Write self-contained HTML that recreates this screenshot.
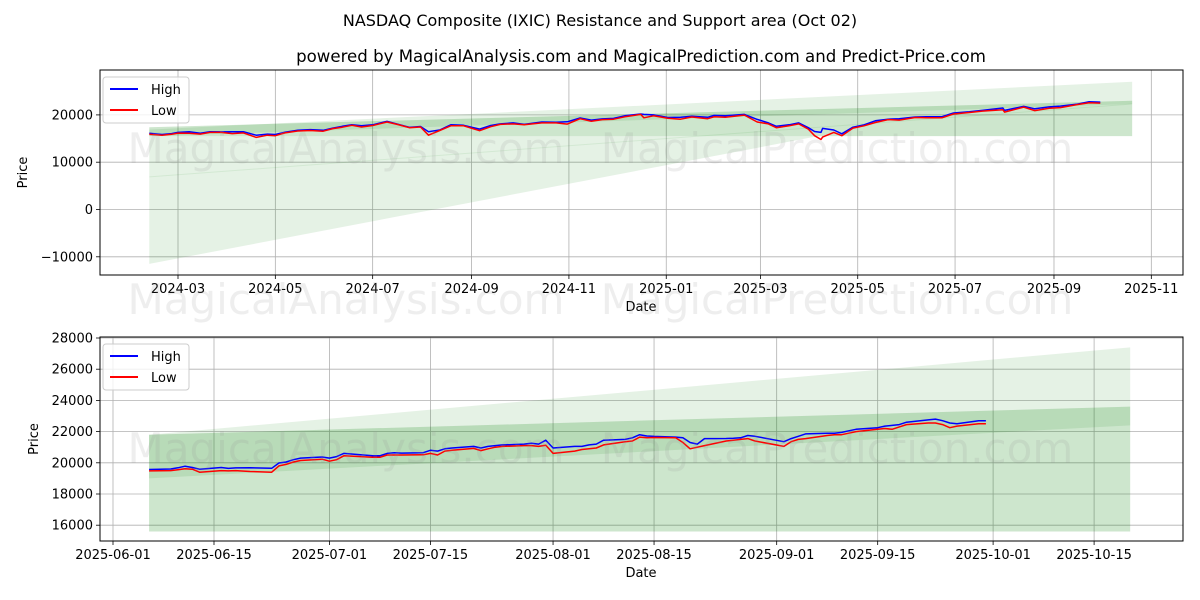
<!DOCTYPE html>
<html><head><meta charset="utf-8"><style>
html,body{margin:0;padding:0;background:#fff;}
svg{display:block;font-family:"DejaVu Sans","Liberation Sans",sans-serif;}
</style></head><body>
<svg id="chart" width="1200" height="600" viewBox="0 0 1200 600" xmlns="http://www.w3.org/2000/svg">
<rect x="0" y="0" width="1200" height="600" fill="#fff"/>
<text x="600" y="26" text-anchor="middle" font-size="16" fill="#000">NASDAQ Composite (IXIC) Resistance and Support area (Oct 02)</text>
<text x="641" y="62" text-anchor="middle" font-size="16.6" fill="#000">powered by MagicalAnalysis.com and MagicalPrediction.com and Predict-Price.com</text>
<g id="top"></g>
<g id="bot"></g>
<g font-size="42" fill="rgba(150,150,150,0.16)" text-anchor="middle">
<text x="346" y="163">MagicalAnalysis.com</text>
<text x="837" y="163">MagicalPrediction.com</text>
<text x="346" y="314">MagicalAnalysis.com</text>
<text x="837" y="314">MagicalPrediction.com</text>
<text x="346" y="463">MagicalAnalysis.com</text>
<text x="837" y="463">MagicalPrediction.com</text>
</g>
</svg>
<script>
// ---- top chart data ----
const topDates = ["2024-02-12","2024-02-20","2024-02-26","2024-03-01","2024-03-08","2024-03-15","2024-03-21","2024-03-28","2024-04-04","2024-04-11","2024-04-19","2024-04-26","2024-05-01","2024-05-07","2024-05-15","2024-05-23","2024-05-31","2024-06-06","2024-06-12","2024-06-18","2024-06-24","2024-07-01","2024-07-10","2024-07-17","2024-07-24","2024-07-31","2024-08-05","2024-08-12","2024-08-19","2024-08-27","2024-09-06","2024-09-13","2024-09-19","2024-09-27","2024-10-04","2024-10-15","2024-10-24","2024-10-31","2024-11-08","2024-11-15","2024-11-22","2024-11-29","2024-12-06","2024-12-16","2024-12-18","2024-12-24","2025-01-02","2025-01-10","2025-01-17","2025-01-27","2025-01-31","2025-02-07","2025-02-19","2025-02-27","2025-03-06","2025-03-11","2025-03-19","2025-03-25","2025-03-31","2025-04-04","2025-04-08","2025-04-09","2025-04-16","2025-04-21","2025-04-28","2025-05-05","2025-05-12","2025-05-20","2025-05-27","2025-06-06","2025-06-13","2025-06-23","2025-06-30","2025-07-10","2025-07-18","2025-07-31","2025-08-01","2025-08-13","2025-08-20","2025-08-29","2025-09-05","2025-09-15","2025-09-23","2025-09-30"];
const topHigh = [16100,15850,16050,16300,16450,16100,16450,16400,16450,16450,15700,15950,15850,16350,16750,16900,16750,17200,17600,17900,17700,17900,18650,18000,17350,17550,16450,16800,17900,17800,17000,17750,18100,18300,18000,18500,18450,18550,19350,18900,19150,19250,19800,20200,20100,20000,19450,19500,19700,19500,19900,19800,20100,19050,18300,17600,17900,18300,17300,16500,16300,17150,16800,16000,17400,17900,18750,19100,19200,19550,19600,19650,20400,20650,20950,21450,20950,21800,21300,21700,21850,22250,22800,22700];
const topLow = [15900,15700,15900,16150,16100,15950,16300,16300,16050,16200,15250,15700,15600,16200,16600,16700,16550,17100,17400,17800,17450,17750,18500,17950,17300,17450,15700,16700,17700,17700,16650,17500,18000,18100,17900,18300,18300,18050,19200,18650,19000,19100,19600,20100,19380,19800,19300,19100,19550,19200,19600,19500,19950,18500,18100,17300,17700,18100,17000,15600,14800,15300,16300,15600,17200,17700,18400,19000,18900,19450,19400,19400,20200,20500,20800,21100,20600,21650,20900,21400,21550,22150,22550,22500];
const topYTicks = [-10000,0,10000,20000];
const topXTicks = ["2024-03","2024-05","2024-07","2024-09","2024-11","2025-01","2025-03","2025-05","2025-07","2025-09","2025-11"];
const topBandStart = "2024-02-12", topBandEnd = "2025-10-20";
const topLightUpper = [16900,27000], topLightLower = [-11500,15500];
const topDarkUpper = [17400,23000], topDarkLower = [15500,15500];
const topStripUpper = [17400,23000], topStripLower = [15500,22300];
const topFaintLine = [6900,22300];

// ---- bottom chart data ----
const botDates = ["2025-06-06","2025-06-09","2025-06-10","2025-06-11","2025-06-12","2025-06-13","2025-06-16","2025-06-17","2025-06-18","2025-06-20","2025-06-23","2025-06-24","2025-06-25","2025-06-26","2025-06-27","2025-06-30","2025-07-01","2025-07-02","2025-07-03","2025-07-07","2025-07-08","2025-07-09","2025-07-10","2025-07-11","2025-07-14","2025-07-15","2025-07-16","2025-07-17","2025-07-18","2025-07-21","2025-07-22","2025-07-23","2025-07-24","2025-07-25","2025-07-28","2025-07-29","2025-07-30","2025-07-31","2025-08-01","2025-08-04","2025-08-05","2025-08-06","2025-08-07","2025-08-08","2025-08-11","2025-08-12","2025-08-13","2025-08-14","2025-08-15","2025-08-18","2025-08-19","2025-08-20","2025-08-21","2025-08-22","2025-08-25","2025-08-26","2025-08-27","2025-08-28","2025-08-29","2025-09-02","2025-09-03","2025-09-04","2025-09-05","2025-09-08","2025-09-09","2025-09-10","2025-09-11","2025-09-12","2025-09-15","2025-09-16","2025-09-17","2025-09-18","2025-09-19","2025-09-22","2025-09-23","2025-09-24","2025-09-25","2025-09-26","2025-09-29","2025-09-30"];
const botHigh = [19570,19600,19680,19780,19700,19590,19700,19640,19670,19680,19650,19990,20050,20200,20300,20370,20300,20400,20600,20450,20450,20600,20650,20620,20650,20800,20750,20900,20950,21050,20950,21050,21100,21150,21200,21250,21200,21450,20950,21050,21050,21150,21200,21450,21500,21600,21800,21720,21690,21650,21600,21300,21200,21550,21560,21570,21600,21750,21700,21350,21550,21700,21850,21900,21900,21950,22050,22150,22250,22350,22400,22450,22600,22750,22800,22700,22550,22500,22700,22700];
const botLow = [19480,19500,19560,19620,19590,19400,19500,19480,19500,19440,19400,19800,19900,20050,20150,20230,20100,20200,20450,20350,20350,20500,20500,20500,20510,20600,20500,20750,20800,20920,20780,20900,21000,21050,21100,21100,21050,21130,20600,20750,20850,20900,20950,21150,21350,21400,21650,21600,21620,21600,21300,20900,21000,21100,21400,21450,21500,21550,21400,21050,21350,21500,21550,21750,21800,21800,21900,22000,22150,22200,22150,22300,22450,22550,22550,22450,22250,22350,22500,22500];
const botYTicks = [16000,18000,20000,22000,24000,26000,28000];
const botXTicks = ["2025-06-01","2025-06-15","2025-07-01","2025-07-15","2025-08-01","2025-08-15","2025-09-01","2025-09-15","2025-10-01","2025-10-15"];
const botBandStart = "2025-06-06", botBandEnd = "2025-10-20";
const botLightUpper = [21800,27400], botLightLower = [15600,15600];
const botDarkUpper = [21800,23600], botDarkLower = [15600,15600];
const botStripUpper = [21800,23600], botStripLower = [19000,22400];

const NS = "http://www.w3.org/2000/svg";
function day(s){ const p=s.split("-").map(Number); return Date.UTC(p[0],p[1]-1,p[2]||1)/86400000; }
function mk(tag, attrs, parent){ const e=document.createElementNS(NS,tag); for(const k in attrs) e.setAttribute(k,attrs[k]); parent.appendChild(e); return e; }

function drawChart(g, cfg){
  const L=100,R=1183,T=cfg.top,B=cfg.bottom;
  const x = d => cfg.x0 + (day(d)-day(cfg.d0))*cfg.pxDay;
  const y = v => cfg.y0 + (cfg.v0 - v)*cfg.pxVal;
  const clip = mk("clipPath",{id:cfg.id+"clip"},g);
  mk("rect",{x:L,y:T,width:R-L,height:B-T},clip);
  cfg.xTicks.forEach((t,i)=>{
    const gl = mk("line",{x1:x(t),x2:x(t),y1:T,y2:B,stroke:"#b0b0b0","stroke-width":0.8},g);
    
    
    const tk = mk("line",{x1:x(t),x2:x(t),y1:B,y2:B+4,stroke:"#000","stroke-width":0.8},g);
    
    
    const lb = mk("text",{x:x(t),y:B+18,"text-anchor":"middle","font-size":13,fill:"#000"},g);
    
    
    lb.textContent=cfg.xLabels[i];
  });
  cfg.yTicks.forEach(v=>{
    const gl = mk("line",{x1:L,x2:R,y1:y(v),y2:y(v),stroke:"#b0b0b0","stroke-width":0.8},g);
    
    
    const tk = mk("line",{x1:L-4,x2:L,y1:y(v),y2:y(v),stroke:"#000","stroke-width":0.8},g);
    
    
    const lb = mk("text",{x:L-7,y:y(v)+4.5,"text-anchor":"end","font-size":13,fill:"#000"},g);
    
    
    lb.textContent = v<0 ? "\u2212"+Math.abs(v) : String(v);
  });
  const bg = mk("g",{"clip-path":"url(#"+cfg.id+"clip)"},g);
  
  
  const xs=x(cfg.bs), xe=x(cfg.be);
  function band(up,lo,name,extra){
    let pts = [[xs,y(up[0])],[xe,y(up[1])],[xe,y(lo[1])]];
    if(extra) pts.push([extra[0],y(extra[1])]);
    pts.push([xs,y(lo[0])]);
    const p = mk("polygon",{points:pts.map(q=>q.join(",")).join(" "),fill:"green","fill-opacity":0.1},bg);
    
    
  }
  band(cfg.lightU,cfg.lightL,'light-band',cfg.lightExtra);
  band(cfg.darkU,cfg.darkL,'support-band');
  band(cfg.stripU,cfg.stripL,'resistance-strip');
  if(cfg.faint){
    const fl = mk("line",{x1:xs,y1:y(cfg.faint[0]),x2:xe,y2:y(cfg.faint[1]),stroke:"green","stroke-opacity":0.08,"stroke-width":1},bg);
    
    
  }
  function series(dates,vals,color,name){
    const d = dates.map((t,i)=>(i?"L":"M")+x(t).toFixed(1)+","+y(vals[i]).toFixed(1)).join(" ");
    const p = mk("path",{d:d,fill:"none",stroke:color,"stroke-width":1.5,"stroke-linejoin":"round"},bg);
    
    
  }
  series(cfg.dates,cfg.high,"#0000ff",'high-line');
  series(cfg.dates,cfg.low,"#ff0000",'low-line');
  const fr = mk("rect",{x:L,y:T,width:R-L,height:B-T,fill:"none",stroke:"#000","stroke-width":1},g);
  
  
  const xt = mk("text",{x:641,y:B+36,"text-anchor":"middle","font-size":13},g);
  
  
  xt.textContent="Date";
  const yt = mk("text",{x:0,y:0,"text-anchor":"middle","font-size":13,transform:"translate("+cfg.ytx+","+((T+B)/2)+") rotate(-90)"},g);
  
  
  yt.textContent="Price";
  const lg = mk("g",{},g);
  
  
  mk("rect",{x:L+3,y:T+7,width:86,height:46,rx:3,fill:"#fff","fill-opacity":0.8,stroke:"#ccc"},lg);
  [["High","#0000ff",T+19],["Low","#ff0000",T+40]].forEach(e=>{
    const it = mk("g",{},lg);
    
    
    mk("line",{x1:L+10,x2:L+38,y1:e[2],y2:e[2],stroke:e[1],"stroke-width":2},it);
    const t = mk("text",{x:L+51,y:e[2]+5,"font-size":13},it);
    t.textContent=e[0];
  });
}

drawChart(document.getElementById("top"),{
  id:"top",top:70,bottom:275,x0:178,d0:"2024-03-01",pxDay:1.5956,y0:209.5,v0:0,pxVal:0.00473,
  xTicks:topXTicks.map(s=>s+"-01"),xLabels:topXTicks,yTicks:topYTicks,dates:topDates,high:topHigh,low:topLow,
  bs:topBandStart,be:topBandEnd,lightU:topLightUpper,lightL:topLightLower,lightExtra:[818,15500],
  darkU:topDarkUpper,darkL:topDarkLower,stripU:topStripUpper,stripL:topStripLower,faint:topFaintLine,ytx:27
});
drawChart(document.getElementById("bot"),{
  id:"bot",top:337,bottom:541,x0:113,d0:"2025-06-01",pxDay:7.214,y0:338,v0:28000,pxVal:0.0156,
  xTicks:botXTicks,xLabels:botXTicks,yTicks:botYTicks,dates:botDates,high:botHigh,low:botLow,
  bs:botBandStart,be:botBandEnd,lightU:botLightUpper,lightL:botLightLower,lightExtra:null,
  darkU:botDarkUpper,darkL:botDarkLower,stripU:botStripUpper,stripL:botStripLower,faint:null,ytx:38
});
</script>
</body></html>
